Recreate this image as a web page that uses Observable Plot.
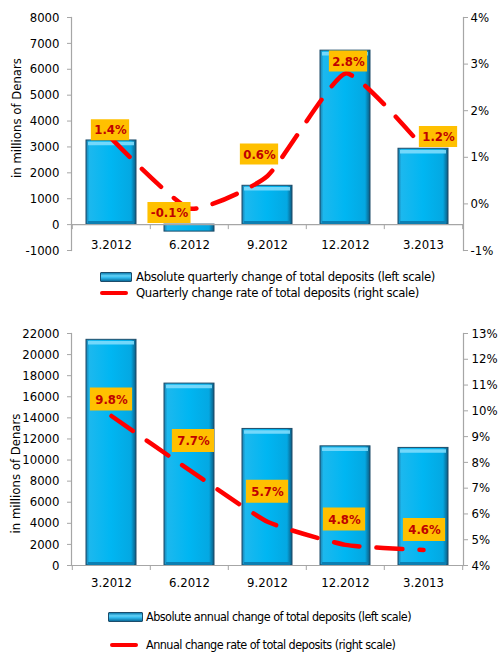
<!DOCTYPE html>
<html>
<head>
<meta charset="utf-8">
<script src="https://cdn.jsdelivr.net/npm/d3@7"></script>
<script src="https://cdn.jsdelivr.net/npm/@observablehq/plot@0.6"></script>
<style>
  body { margin: 0; background: #fff; }
  #page { position: relative; width: 498px; height: 654px; overflow: hidden;
          font-family: "DejaVu Sans Condensed", "DejaVu Sans", sans-serif; color: #000; }
  .chart { position: absolute; left: 0; }
  .row { position: absolute; white-space: nowrap; line-height: 16px; display: flex; align-items: center; }
  .row.q { font-size: 13px; letter-spacing: -0.36px; }
  .row.a { font-size: 12.5px; letter-spacing: -0.54px; }
  .sw-bar { display: inline-block; box-sizing: border-box; border: 1px solid #1c4c6b; border-radius: 1px;
            background: linear-gradient(to bottom, #0d7fb2 0%, #63d2f8 35%, #2fb8ec 60%, #0a6d9c 100%); }
  .sw-line { display: inline-block; height: 4px; border-radius: 2px; background: #ff0000; }
</style>
</head>
<body>
<div id="page">
  <div id="quarterly" class="chart" style="top:0px"></div>
  <div class="row q" style="left:100px; top:269px">
    <span class="sw-bar" style="width:32px; height:10px; margin-right:4px"></span><span>Absolute quarterly change of total deposits (left scale)</span>
  </div>
  <div class="row q" style="left:100px; top:285px">
    <span class="sw-line" style="width:28px; margin-right:8px"></span><span>Quarterly change rate of total deposits (right scale)</span>
  </div>
  <div id="annual" class="chart" style="top:316px"></div>
  <div class="row a" style="left:108px; top:609px">
    <span class="sw-bar" style="width:35px; height:10px; margin-right:3px"></span><span>Absolute annual change of total deposits (left scale)</span>
  </div>
  <div class="row a" style="left:110px; top:637px">
    <span class="sw-line" style="width:28px; margin-right:8px"></span><span>Annual change rate of total deposits (right scale)</span>
  </div>
</div>
<script>
// Reporting periods (end of quarter)
const periods = ["3.2012", "6.2012", "9.2012", "12.2012", "3.2013"];

// Quarterly view: absolute change (millions of Denars) and change rate (%)
const quarterlyChange = [3250, -270, 1500, 6720, 2930];
const quarterlyRate = [1.4, -0.1, 0.6, 2.8, 1.2];
const quarterlyLeftTicks = [-1000, 0, 1000, 2000, 3000, 4000, 5000, 6000, 7000, 8000];
const quarterlyRightTicks = [-1, 0, 1, 2, 3, 4];

// Annual view: absolute change (millions of Denars) and change rate (%)
const annualChange = [21400, 17250, 12950, 11300, 11150];
const annualRate = [9.8, 7.7, 5.7, 4.8, 4.6];
const annualLeftTicks = [0, 2000, 4000, 6000, 8000, 10000, 12000, 14000, 16000, 18000, 20000, 22000];
const annualRightTicks = [4, 5, 6, 7, 8, 9, 10, 11, 12, 13];

const FONT = '"DejaVu Sans Condensed", "DejaVu Sans", sans-serif';
const AXIS_GRAY = "#a6a6a6";

// text width helper for sizing the label boxes
const measureCtx = document.createElement("canvas").getContext("2d");
function textWidth(s, font) { measureCtx.font = font; return measureCtx.measureText(s).width; }

function dualChart(opts) {
  const {
    id, values, rates, leftDomain, rightDomain, leftTicks, rightTicks,
    height, marginTop, marginBottom, nudges, boxPad, boxH, labelDy, rightPad
  } = opts;
  const W = 498, mL = 71, mR = 35;
  const padInner = 0.36;
  const step = (W - mL - mR) / periods.length;
  const bw = step * (1 - padInner);

  // map right-axis percentages onto the left-axis value range
  const k = (leftDomain[1] - leftDomain[0]) / (rightDomain[1] - rightDomain[0]);
  const toLeft = p => leftDomain[0] + (p - rightDomain[0]) * k;
  const fromLeft = v => rightDomain[0] + (v - leftDomain[0]) / k;

  const bars = periods.map((p, i) => ({period: p, value: values[i]}));
  const rateRows = periods.map((p, i) => ({period: p, v: toLeft(rates[i]), label: rates[i].toFixed(1) + "%"}));
  const positive = bars.filter(d => d.value > 0);

  const labelFont = `bold 13px ${FONT}`;
  const labelMarks = rateRows.flatMap((d, i) => {
    const [dx, dy] = nudges[i];
    const w = textWidth(d.label, labelFont) + boxPad;
    const inset = (bw - w) / 2;
    return [
      Plot.tickY([d], {x: "period", y: "v", dx, dy, stroke: "#ffc000", strokeWidth: boxH,
                       insetLeft: inset, insetRight: inset}),
      Plot.text([d], {x: "period", y: "v", text: "label", dx, dy: dy + 0.5, fill: "#c00000",
                      fontWeight: "bold", fontSize: 13})
    ];
  });

  const gradId = id + "-bar";
  const plot = Plot.plot({
    width: W, height, marginLeft: mL, marginRight: mR, marginTop, marginBottom,
    style: {fontFamily: FONT, fontSize: "13px", color: "#000", background: "transparent", overflow: "visible"},
    x: {type: "band", domain: periods, paddingInner: padInner, paddingOuter: padInner / 2, axis: null},
    y: {domain: leftDomain, axis: null},
    marks: [
      Plot.barY(bars, {x: "period", y: "value", fill: `url(#${gradId})`, stroke: "#1d4b68", strokeWidth: 1}),
      // bevel highlight along the top and shading along the base of each bar
      Plot.tickY(positive, {x: "period", y: "value", dy: 3, stroke: "#7edcfc", strokeWidth: 3.5, insetLeft: 2, insetRight: 2, strokeOpacity: 0.9}),
      Plot.tickY(positive, {x: "period", y: 0, dy: -2, stroke: "#0c7fb2", strokeWidth: 3, insetLeft: 2, insetRight: 2}),
      Plot.ruleY([0], {stroke: AXIS_GRAY, strokeWidth: 1.2}),
      // category ticks on the zero line, between periods
      Plot.ruleX(periods, {x: d => d, dx: -step / 2, y1: 0, y2: 0, insetBottom: -5, stroke: AXIS_GRAY}),
      Plot.ruleX(periods.slice(-1), {x: d => d, dx: step / 2, y1: 0, y2: 0, insetBottom: -5, stroke: AXIS_GRAY}),
      Plot.text(periods, {x: d => d, y: 0, dy: labelDy, fontSize: 13, fill: "#000"}),
      Plot.frame({anchor: "left", stroke: AXIS_GRAY, strokeWidth: 1.2}),
      Plot.frame({anchor: "right", stroke: AXIS_GRAY, strokeWidth: 1.2}),
      Plot.axisY({anchor: "left", ticks: leftTicks, tickSize: 4, tickPadding: 8, stroke: AXIS_GRAY,
                  fill: "#000", label: null, tickFormat: d => String(d), fontSize: 13}),
      Plot.axisY(rightTicks.map(toLeft), {anchor: "right", tickSize: 4, tickPadding: rightPad, stroke: AXIS_GRAY,
                  fill: "#000", label: null, tickFormat: v => Math.round(fromLeft(v)) + "%", fontSize: 13}),
      Plot.text(["in millions of Denars"], {frameAnchor: "left", rotate: -90, textAnchor: "middle",
                  dx: opts.titleDx, dy: opts.titleDy, fontSize: 13, fill: "#000"}),
      Plot.line(rateRows, {x: "period", y: "v", stroke: "#ff0000", strokeWidth: 4.5,
                  strokeDasharray: "26 17", strokeLinecap: "round", curve: "cardinal", tension: 0.5}),
      ...labelMarks
    ]
  });

  // horizontal bevel gradient used by the bars
  d3.select(plot).insert("defs", ":first-child").html(`
    <linearGradient id="${gradId}" x1="0" x2="1" y1="0" y2="0">
      <stop offset="0" stop-color="#1a7fae"/>
      <stop offset="0.07" stop-color="#1cb8ee"/>
      <stop offset="0.5" stop-color="#00b6f2"/>
      <stop offset="0.9" stop-color="#04a8e2"/>
      <stop offset="1" stop-color="#0d5a80"/>
    </linearGradient>`);
  document.getElementById(id).append(plot);
}

dualChart({
  id: "quarterly", values: quarterlyChange, rates: quarterlyRate,
  leftDomain: [-1000, 8000], rightDomain: [-1, 4],
  leftTicks: quarterlyLeftTicks, rightTicks: quarterlyRightTicks,
  height: 258, marginTop: 17, marginBottom: 8, labelDy: 20, rightPad: 3,
  nudges: [[-1, -9], [-20, 4], [-8, -22], [3, -12.5], [15, -11.5]],
  boxPad: 6, boxH: 21, titleDx: -55, titleDy: -16
});

dualChart({
  id: "annual", values: annualChange, rates: annualRate,
  leftDomain: [0, 22000], rightDomain: [4, 13],
  leftTicks: annualLeftTicks, rightTicks: annualRightTicks,
  height: 275, marginTop: 17, marginBottom: 26, labelDy: 17, rightPad: 4,
  nudges: [[0, -17], [4, -29.5], [0, -30.5], [-1, -26], [1, -20.5]],
  boxPad: 10, boxH: 23, titleDx: -56, titleDy: 24
});
</script>
</body>
</html>
